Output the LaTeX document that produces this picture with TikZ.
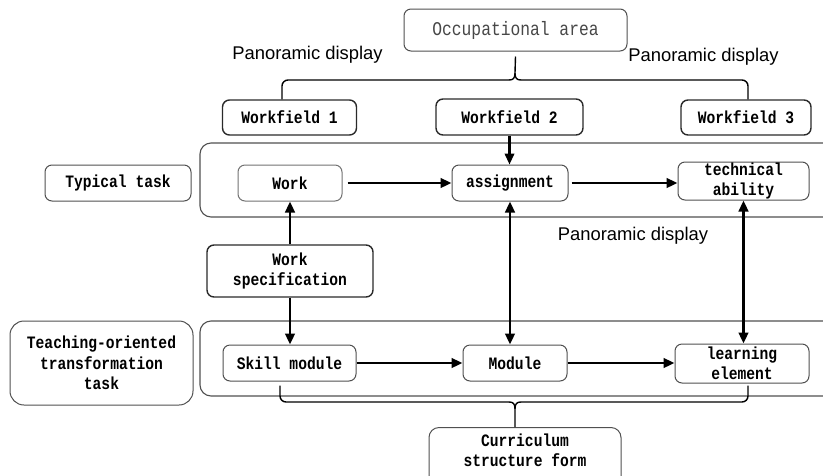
\documentclass[tikz,border=0pt]{standalone}
\usepackage{fontspec}
\setmainfont{Liberation Sans}
\newfontfamily\monof[FakeStretch=0.84]{Liberation Mono}
\usetikzlibrary{arrows.meta}
\definecolor{edge}{HTML}{2A2A2A}
\definecolor{frame}{HTML}{505050}
\tikzset{
  bx/.style={draw=edge, line width=1.4pt, rounded corners=7pt, align=center, inner sep=0pt,
    font=\monof\bfseries\fontsize{17.4}{20.5}\selectfont, text=black},
  lightbx/.style={bx, draw=frame, line width=1pt},
  container/.style={draw=frame, line width=1.1pt, rounded corners=11pt},
  conn/.style={line width=2.9pt, -{Triangle[length=11pt,width=9.5pt]}},
  dconn/.style={line width=2.9pt, {Triangle[length=11pt,width=9.5pt]}-{Triangle[length=11pt,width=9.5pt]}},
  bracel/.style={draw=black, line width=1.4pt},
  pano/.style={font=\fontsize{18.4}{20}\selectfont, inner sep=0pt}
}
\begin{document}
\begin{tikzpicture}[x=1pt,y=-1pt]
\useasboundingbox (0,0) rectangle (823,475);
\clip (0,0) rectangle (823,475);
\fill[white] (0,0) rectangle (823,475);

% containers (open at the right edge)
\draw[container] (830,143) -- (200,143) -- (200,217) -- (830,217);
\draw[container] (830,321) -- (200,321) -- (200,396) -- (830,396);

% nodes
\node[lightbx, minimum width=223pt, minimum height=42pt, font=\monof\fontsize{19.4}{20}\selectfont, text=black!72, line width=1pt] (occ) at (515.5,30) {Occupational area};
\node[bx, minimum width=134pt, minimum height=35pt] (wf1) at (289.5,117.5) {Workfield 1};
\node[bx, minimum width=147pt, minimum height=36pt] (wf2) at (509.5,117) {Workfield 2};
\node[bx, minimum width=130pt, minimum height=35pt] (wf3) at (746,117.5) {Workfield 3};

\node[lightbx, minimum width=146pt, minimum height=36pt] (typ) at (118,183) {Typical task};
\node[lightbx, draw=black!55, minimum width=104pt, minimum height=36pt] (work) at (290,183) {Work};
\node[lightbx, minimum width=116pt, minimum height=36pt] (assign) at (510,183) {assignment};
\node[lightbx, minimum width=131pt, minimum height=38pt] (tech) at (743.5,181) {technical\\ability};

\node[bx, minimum width=166pt, minimum height=52pt] (spec) at (290,271) {Work\\specification};

\node[lightbx, rounded corners=14pt, minimum width=183pt, minimum height=84pt] (teach) at (101.5,363) {Teaching-oriented\\transformation\\task};
\node[lightbx, minimum width=133pt, minimum height=36pt] (skill) at (289.5,363) {Skill module};
\node[lightbx, minimum width=104pt, minimum height=36pt] (module) at (515,363) {Module};
\node[lightbx, minimum width=134pt, minimum height=39pt] (learn) at (742,363.5) {learning\\element};

\node[lightbx, anchor=north, minimum width=192pt, inner ysep=6pt, rounded corners=10pt] (curr) at (525,427) {Curriculum\\structure form\\[10pt]};

% panoramic display labels
\node[pano] (p1) at (307.5,55) {Panoramic display};
\node[pano] (p2) at (703.5,57) {Panoramic display};
\node[pano] (p3) at (633,236) {Panoramic display};

% top brace
\coordinate (tb) at ([yshift=-5pt]occ.south);
\coordinate (tl) at ([xshift=-7.5pt]wf1.north);
\coordinate (tr) at ([xshift=2pt]wf3.north);
\draw[bracel, rounded corners=6pt] (tl) -- (tl |- 0,80) -- (509,80);
\draw[bracel, rounded corners=6pt] (tr) -- (tr |- 0,80) -- (521,80);
\draw[bracel] (509,80) .. controls (513,80) and (515,78.5) .. (515,73)
              (521,80) .. controls (517,80) and (515,78.5) .. (515,73)
              (515,73) -- (tb);

% bottom brace
\coordinate (bl) at ([xshift=-9.5pt,yshift=-4pt]skill.south);
\coordinate (br) at ([xshift=6pt,yshift=-2pt]learn.south);
\coordinate (bt) at (curr.north -| 515,0);
\draw[bracel, rounded corners=6pt] (bl) -- (bl |- 0,402) -- (509,402);
\draw[bracel, rounded corners=6pt] (br) -- (br |- 0,402) -- (521,402);
\draw[bracel] (509,402) .. controls (513,402) and (515,403.5) .. (515,409)
              (521,402) .. controls (517,402) and (515,403.5) .. (515,409)
              (515,409) -- (bt);

% arrows
\draw[conn, line width=2.2pt] (wf2.south) -- (wf2.south |- assign.north);
\draw[conn] ([xshift=5pt]work.east) -- (assign.west);
\draw[conn] ([xshift=3pt]assign.east) -- (assign.east -| tech.west);
\draw[conn] (spec.north) -- (spec.north |- work.south);
\draw[conn] (spec.south) -- (spec.south |- skill.north);
\draw[conn] (skill.east) -- (module.west);
\draw[conn] (module.east) -- (module.east -| learn.west);
\draw[dconn] (assign.south) -- (assign.south |- module.north);
\draw[dconn] (tech.south) -- (tech.south |- learn.north);
\end{tikzpicture}
\end{document}
